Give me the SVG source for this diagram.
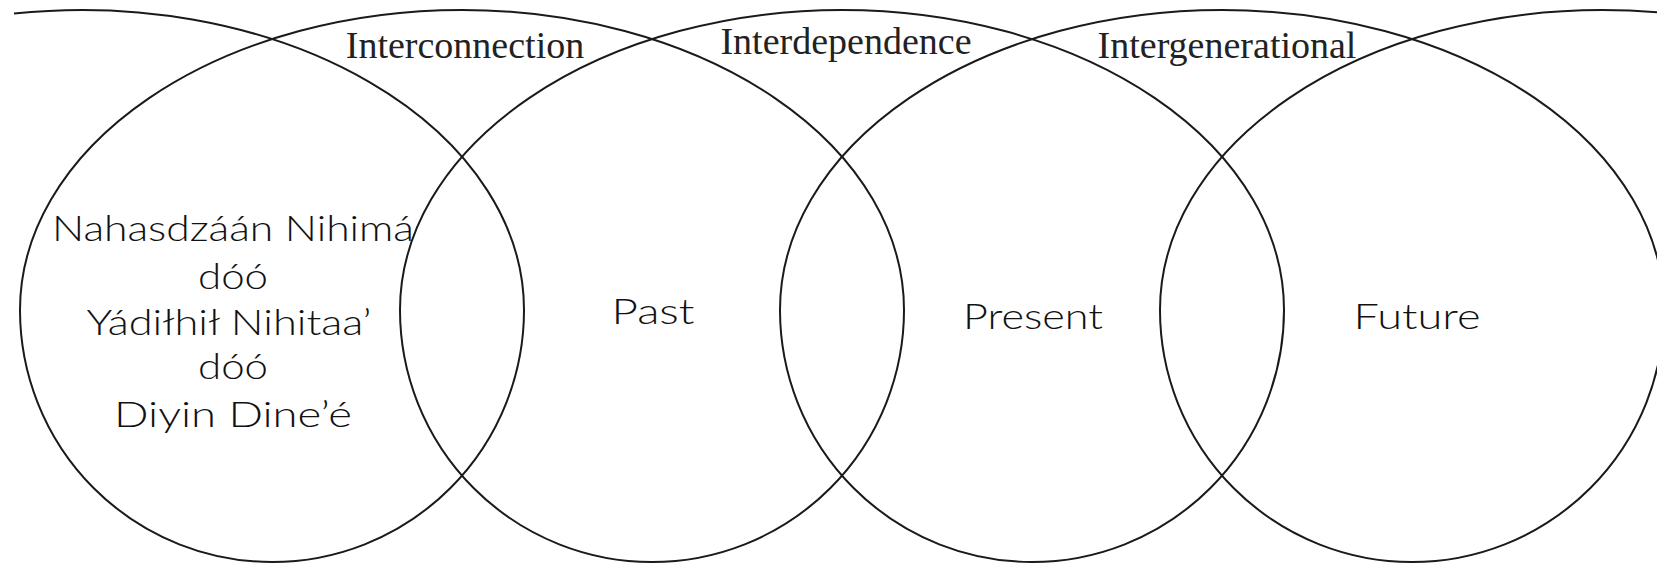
<svg xmlns="http://www.w3.org/2000/svg" width="1657" height="564" viewBox="0 0 1657 564">
<style>
  .ring { fill: none; stroke: #1a1a1a; stroke-width: 2; }
  .lbl { font-family: "Liberation Serif", "Times New Roman", serif; font-size: 38px; fill: #222; text-anchor: middle; }
  .nm { font-family: Lato, "Open Sans", sans-serif; font-size: 35px; font-weight: 300; fill: #111; text-anchor: middle; }
</style>
<rect width="1657" height="564" fill="#ffffff"/>
<g id="connectors">
  <path class="ring" d="M14,13.57 A442,300 0 0 1 524,310"/>
  <path class="ring" d="M20,310 A442,300 0 0 1 904,310"/>
  <path class="ring" d="M400,310 A442,300 0 0 1 1284,310"/>
  <path class="ring" d="M780,310 A442,300 0 0 1 1664,310"/>
  <path class="ring" d="M1160,310 A442,300 0 0 1 2044,310"/>
</g>
<g id="origin">
  <path class="ring" d="M20,310 A252,252 0 0 0 524,310"/>
  <text class="nm" x="233" y="241" textLength="362" lengthAdjust="spacingAndGlyphs">Nahasdzáán Nihimá</text>
  <text class="nm" x="233" y="289" textLength="70" lengthAdjust="spacingAndGlyphs">dóó</text>
  <text class="nm" x="229" y="335" textLength="285" lengthAdjust="spacingAndGlyphs">Yádiłhił Nihitaa’</text>
  <text class="nm" x="233" y="379" textLength="70" lengthAdjust="spacingAndGlyphs">dóó</text>
  <text class="nm" x="233" y="427" textLength="238" lengthAdjust="spacingAndGlyphs">Diyin Dine’é</text>
</g>
<g id="past">
  <path class="ring" d="M400,310 A252,252 0 0 0 904,310"/>
  <text class="nm" x="653" y="324" textLength="83" lengthAdjust="spacingAndGlyphs">Past</text>
</g>
<g id="present">
  <path class="ring" d="M780,310 A252,252 0 0 0 1284,310"/>
  <text class="nm" x="1033" y="329" textLength="140" lengthAdjust="spacingAndGlyphs">Present</text>
</g>
<g id="future">
  <path class="ring" d="M1160,310 A252,252 0 0 0 1664,310"/>
  <text class="nm" x="1417" y="329" textLength="127" lengthAdjust="spacingAndGlyphs">Future</text>
</g>
<g id="interconnection">
  <text class="lbl" x="465" y="58">Interconnection</text>
</g>
<g id="interdependence">
  <text class="lbl" x="846" y="54">Interdependence</text>
</g>
<g id="intergenerational">
  <text class="lbl" x="1227" y="58">Intergenerational</text>
</g>
</svg>
